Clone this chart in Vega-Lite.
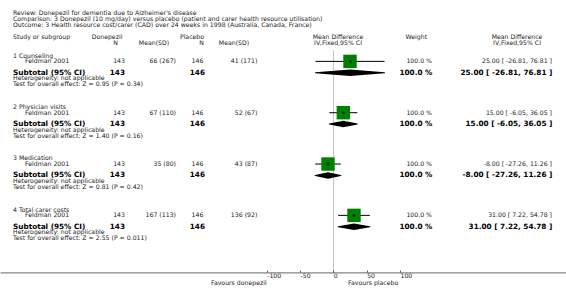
{
  "$schema": "https://vega.github.io/schema/vega-lite/v6.json",
  "width": 566,
  "height": 223,
  "autosize": {"type": "none"},
  "padding": {"left": 0, "right": 0, "top": 49.4, "bottom": 28.6},
  "background": "white",
  "config": {
    "view": {"stroke": null},
    "text": {"font": "DejaVu Sans", "color": "#222", "fontSize": 6.2, "baseline": "middle"}
  },
  "datasets": {
    "lines": [
      {"line": -7.4, "kind": "meta", "label": "Review: Donepezil for dementia due to Alzheimer's disease"},
      {"line": -6.4, "kind": "meta", "label": "Comparison: 3 Donepezil (10 mg/day) versus placebo (patient and carer health resource utilisation)"},
      {"line": -5.4, "kind": "meta", "label": "Outcome: 3 Health resource cost/carer (CAD) over 24 weeks in 1998 (Australia, Canada, France)"},
      {"line": 0, "kind": "group", "label": "1 Counseling"},
      {"line": 1, "kind": "study", "label": "Feldman 2001", "dN": 143, "dMean": "66 (267)", "pN": 146, "pMean": "41 (171)", "weight": "100.0 %", "ci": "25.00 [ -26.81, 76.81 ]", "md": 25, "lo": -26.81, "hi": 76.81},
      {"line": 3, "kind": "subtotal", "label": "Subtotal (95% CI)", "dN": 143, "pN": 146, "weight": "100.0 %", "ci": "25.00 [ -26.81, 76.81 ]", "md": 25, "lo": -26.81, "hi": 76.81},
      {"line": 4, "kind": "note", "label": "Heterogeneity: not applicable"},
      {"line": 5, "kind": "note", "label": "Test for overall effect: Z = 0.95 (P = 0.34)"},
      {"line": 9, "kind": "group", "label": "2 Physician visits"},
      {"line": 10, "kind": "study", "label": "Feldman 2001", "dN": 143, "dMean": "67 (110)", "pN": 146, "pMean": "52 (67)", "weight": "100.0 %", "ci": "15.00 [ -6.05, 36.05 ]", "md": 15, "lo": -6.05, "hi": 36.05},
      {"line": 12, "kind": "subtotal", "label": "Subtotal (95% CI)", "dN": 143, "pN": 146, "weight": "100.0 %", "ci": "15.00 [ -6.05, 36.05 ]", "md": 15, "lo": -6.05, "hi": 36.05},
      {"line": 13, "kind": "note", "label": "Heterogeneity: not applicable"},
      {"line": 14, "kind": "note", "label": "Test for overall effect: Z = 1.40 (P = 0.16)"},
      {"line": 18, "kind": "group", "label": "3 Medication"},
      {"line": 19, "kind": "study", "label": "Feldman 2001", "dN": 143, "dMean": "35 (80)", "pN": 146, "pMean": "43 (87)", "weight": "100.0 %", "ci": "-8.00 [ -27.26, 11.26 ]", "md": -8, "lo": -27.26, "hi": 11.26},
      {"line": 21, "kind": "subtotal", "label": "Subtotal (95% CI)", "dN": 143, "pN": 146, "weight": "100.0 %", "ci": "-8.00 [ -27.26, 11.26 ]", "md": -8, "lo": -27.26, "hi": 11.26},
      {"line": 22, "kind": "note", "label": "Heterogeneity: not applicable"},
      {"line": 23, "kind": "note", "label": "Test for overall effect: Z = 0.81 (P = 0.42)"},
      {"line": 27, "kind": "group", "label": "4 Total carer costs"},
      {"line": 28, "kind": "study", "label": "Feldman 2001", "dN": 143, "dMean": "167 (113)", "pN": 146, "pMean": "136 (92)", "weight": "100.0 %", "ci": "31.00 [ 7.22, 54.78 ]", "md": 31, "lo": 7.22, "hi": 54.78},
      {"line": 30, "kind": "subtotal", "label": "Subtotal (95% CI)", "dN": 143, "pN": 146, "weight": "100.0 %", "ci": "31.00 [ 7.22, 54.78 ]", "md": 31, "lo": 7.22, "hi": 54.78},
      {"line": 31, "kind": "note", "label": "Heterogeneity: not applicable"},
      {"line": 32, "kind": "note", "label": "Test for overall effect: Z = 2.55 (P = 0.011)"}
    ],
    "headers": [
      {"col": "study", "line": -3.2, "text": "Study or subgroup"},
      {"col": "dHead", "line": -3.2, "text": "Donepezil"},
      {"col": "dN", "line": -2.15, "text": "N"},
      {"col": "dMean", "line": -2.15, "text": "Mean(SD)"},
      {"col": "pHead", "line": -3.2, "text": "Placebo"},
      {"col": "pN", "line": -2.15, "text": "N"},
      {"col": "pMean", "line": -2.15, "text": "Mean(SD)"},
      {"col": "plot", "line": -3.2, "text": "Mean Difference"},
      {"col": "plot", "line": -2.15, "text": "IV,Fixed,95% CI"},
      {"col": "weight", "line": -3.2, "text": "Weight"},
      {"col": "ci", "line": -3.2, "text": "Mean Difference"},
      {"col": "ci", "line": -2.15, "text": "IV,Fixed,95% CI"}
    ],
    "favours": [
      {"side": "left", "line": 39.9, "text": "Favours donepezil"},
      {"side": "right", "line": 39.9, "text": "Favours placebo"}
    ],
    "one": [{"id": 1}]
  },
  "data": {"name": "lines"},
  "encoding": {
    "y": {"field": "line", "type": "quantitative", "scale": {"domain": [-1.1, 38], "reverse": true, "nice": false, "zero": false}, "axis": null}
  },
  "layer": [
    {
      "data": {"name": "one"},
      "mark": {"type": "rule", "color": "#8c8c8c", "strokeWidth": 1},
      "encoding": {"y": {"datum": -1.1, "type": "quantitative"}}
    },
    {
      "transform": [{"filter": "datum.kind === 'study'"}],
      "mark": {"type": "rule", "color": "#000", "strokeWidth": 1},
      "encoding": {"x": {"field": "lo", "type": "quantitative"}, "x2": {"field": "hi"}}
    },
    {
      "transform": [{"filter": "datum.kind === 'study'"}],
      "mark": {"type": "point", "shape": "square", "filled": true, "size": 180, "color": "#008000", "opacity": 1},
      "encoding": {
        "x": {
          "field": "md", "type": "quantitative",
          "scale": {"domain": [-500, 349], "nice": false, "zero": false},
          "axis": {
            "values": [-100, -50, 0, 50, 100], "title": null,
            "grid": true, "gridColor": "#c4c4c4", "gridWidth": 1,
            "gridOpacity": {"condition": {"test": "datum.value === 0", "value": 1}, "value": 0},
            "domainColor": "#666", "domainWidth": 1, "tickColor": "#666", "tickSize": -2.5,
            "labelAlign": "left", "labelBaseline": "top", "labelPadding": 2.5,
            "labelFontSize": 6.2, "labelColor": "#222", "labelFont": "DejaVu Sans",
            "labelFlush": false, "labelOverlap": false, "labelExpr": "'' + datum.value"
          }
        }
      }
    },
    {
      "transform": [{"filter": "datum.kind === 'study'"}],
      "mark": {"type": "point", "shape": "cross", "filled": true, "size": 8, "color": "#000", "opacity": 0.8},
      "encoding": {"x": {"field": "md", "type": "quantitative"}}
    },
    {
      "transform": [{"filter": "datum.kind === 'subtotal'"}, {"fold": ["lo", "md", "hi"], "as": ["k", "v"]}],
      "mark": {"type": "trail", "color": "#000"},
      "encoding": {
        "x": {"field": "v", "type": "quantitative"},
        "detail": {"field": "line", "type": "nominal"},
        "size": {"condition": {"test": "datum.k === 'md'", "value": 6.5}, "value": 0}
      }
    },
    {
      "transform": [{"filter": "datum.kind === 'meta' || datum.kind === 'group' || datum.kind === 'note'"}],
      "mark": {"type": "text", "align": "left"},
      "encoding": {"x": {"datum": -480.5}, "text": {"field": "label", "type": "nominal"}}
    },
    {
      "transform": [{"filter": "datum.kind === 'study'"}],
      "mark": {"type": "text", "align": "left"},
      "encoding": {"x": {"datum": -462.5}, "text": {"field": "label", "type": "nominal"}}
    },
    {
      "transform": [{"filter": "datum.kind === 'subtotal'"}],
      "mark": {"type": "text", "align": "left", "fontWeight": "bold", "fontSize": 7.3, "color": "#000"},
      "encoding": {"x": {"datum": -480.5}, "text": {"field": "label", "type": "nominal"}}
    },
    {
      "transform": [{"filter": "datum.kind === 'study'"}],
      "mark": {"type": "text", "align": "right"},
      "encoding": {"x": {"datum": -312.5}, "text": {"field": "dN", "type": "nominal"}}
    },
    {
      "transform": [{"filter": "datum.kind === 'study'"}],
      "mark": {"type": "text", "align": "right"},
      "encoding": {"x": {"datum": -236}, "text": {"field": "dMean", "type": "nominal"}}
    },
    {
      "transform": [{"filter": "datum.kind === 'study'"}],
      "mark": {"type": "text", "align": "right"},
      "encoding": {"x": {"datum": -195}, "text": {"field": "pN", "type": "nominal"}}
    },
    {
      "transform": [{"filter": "datum.kind === 'study'"}],
      "mark": {"type": "text", "align": "right"},
      "encoding": {"x": {"datum": -114}, "text": {"field": "pMean", "type": "nominal"}}
    },
    {
      "transform": [{"filter": "datum.kind === 'study'"}],
      "mark": {"type": "text", "align": "right"},
      "encoding": {"x": {"datum": 148}, "text": {"field": "weight", "type": "nominal"}}
    },
    {
      "transform": [{"filter": "datum.kind === 'study'"}],
      "mark": {"type": "text", "align": "right"},
      "encoding": {"x": {"datum": 328}, "text": {"field": "ci", "type": "nominal"}}
    },
    {
      "transform": [{"filter": "datum.kind === 'subtotal'"}],
      "mark": {"type": "text", "align": "right", "fontWeight": "bold", "fontSize": 7.3, "color": "#000"},
      "encoding": {"x": {"datum": -312.5}, "text": {"field": "dN", "type": "nominal"}}
    },
    {
      "transform": [{"filter": "datum.kind === 'subtotal'"}],
      "mark": {"type": "text", "align": "right", "fontWeight": "bold", "fontSize": 7.3, "color": "#000"},
      "encoding": {"x": {"datum": -192.5}, "text": {"field": "pN", "type": "nominal"}}
    },
    {
      "transform": [{"filter": "datum.kind === 'subtotal'"}],
      "mark": {"type": "text", "align": "right", "fontWeight": "bold", "fontSize": 7.3, "color": "#000"},
      "encoding": {"x": {"datum": 148.5}, "text": {"field": "weight", "type": "nominal"}}
    },
    {
      "transform": [{"filter": "datum.kind === 'subtotal'"}],
      "mark": {"type": "text", "align": "right", "fontWeight": "bold", "fontSize": 7.3, "color": "#000"},
      "encoding": {"x": {"datum": 328.5}, "text": {"field": "ci", "type": "nominal"}}
    },
    {
      "data": {"name": "headers"},
      "transform": [{"filter": "datum.col === 'study'"}],
      "mark": {"type": "text", "align": "left"},
      "encoding": {"x": {"datum": -480.5}, "text": {"field": "text", "type": "nominal"}}
    },
    {
      "data": {"name": "headers"},
      "transform": [{"filter": "datum.col === 'dHead'"}],
      "mark": {"type": "text", "align": "center"},
      "encoding": {"x": {"datum": -339.5}, "text": {"field": "text", "type": "nominal"}}
    },
    {
      "data": {"name": "headers"},
      "transform": [{"filter": "datum.col === 'dN'"}],
      "mark": {"type": "text", "align": "center"},
      "encoding": {"x": {"datum": -326.5}, "text": {"field": "text", "type": "nominal"}}
    },
    {
      "data": {"name": "headers"},
      "transform": [{"filter": "datum.col === 'dMean'"}],
      "mark": {"type": "text", "align": "center"},
      "encoding": {"x": {"datum": -269}, "text": {"field": "text", "type": "nominal"}}
    },
    {
      "data": {"name": "headers"},
      "transform": [{"filter": "datum.col === 'pHead'"}],
      "mark": {"type": "text", "align": "center"},
      "encoding": {"x": {"datum": -212}, "text": {"field": "text", "type": "nominal"}}
    },
    {
      "data": {"name": "headers"},
      "transform": [{"filter": "datum.col === 'pN'"}],
      "mark": {"type": "text", "align": "center"},
      "encoding": {"x": {"datum": -197.75}, "text": {"field": "text", "type": "nominal"}}
    },
    {
      "data": {"name": "headers"},
      "transform": [{"filter": "datum.col === 'pMean'"}],
      "mark": {"type": "text", "align": "center"},
      "encoding": {"x": {"datum": -149}, "text": {"field": "text", "type": "nominal"}}
    },
    {
      "data": {"name": "headers"},
      "transform": [{"filter": "datum.col === 'plot'"}],
      "mark": {"type": "text", "align": "center"},
      "encoding": {"x": {"datum": 7}, "text": {"field": "text", "type": "nominal"}}
    },
    {
      "data": {"name": "headers"},
      "transform": [{"filter": "datum.col === 'weight'"}],
      "mark": {"type": "text", "align": "center"},
      "encoding": {"x": {"datum": 124.5}, "text": {"field": "text", "type": "nominal"}}
    },
    {
      "data": {"name": "headers"},
      "transform": [{"filter": "datum.col === 'ci'"}],
      "mark": {"type": "text", "align": "center"},
      "encoding": {"x": {"datum": 275.5}, "text": {"field": "text", "type": "nominal"}}
    },
    {
      "data": {"name": "favours"},
      "transform": [{"filter": "datum.side === 'left'"}],
      "mark": {"type": "text", "align": "right"},
      "encoding": {"x": {"datum": -100}, "text": {"field": "text", "type": "nominal"}}
    },
    {
      "data": {"name": "favours"},
      "transform": [{"filter": "datum.side === 'right'"}],
      "mark": {"type": "text", "align": "left"},
      "encoding": {"x": {"datum": 22}, "text": {"field": "text", "type": "nominal"}}
    }
  ]
}
